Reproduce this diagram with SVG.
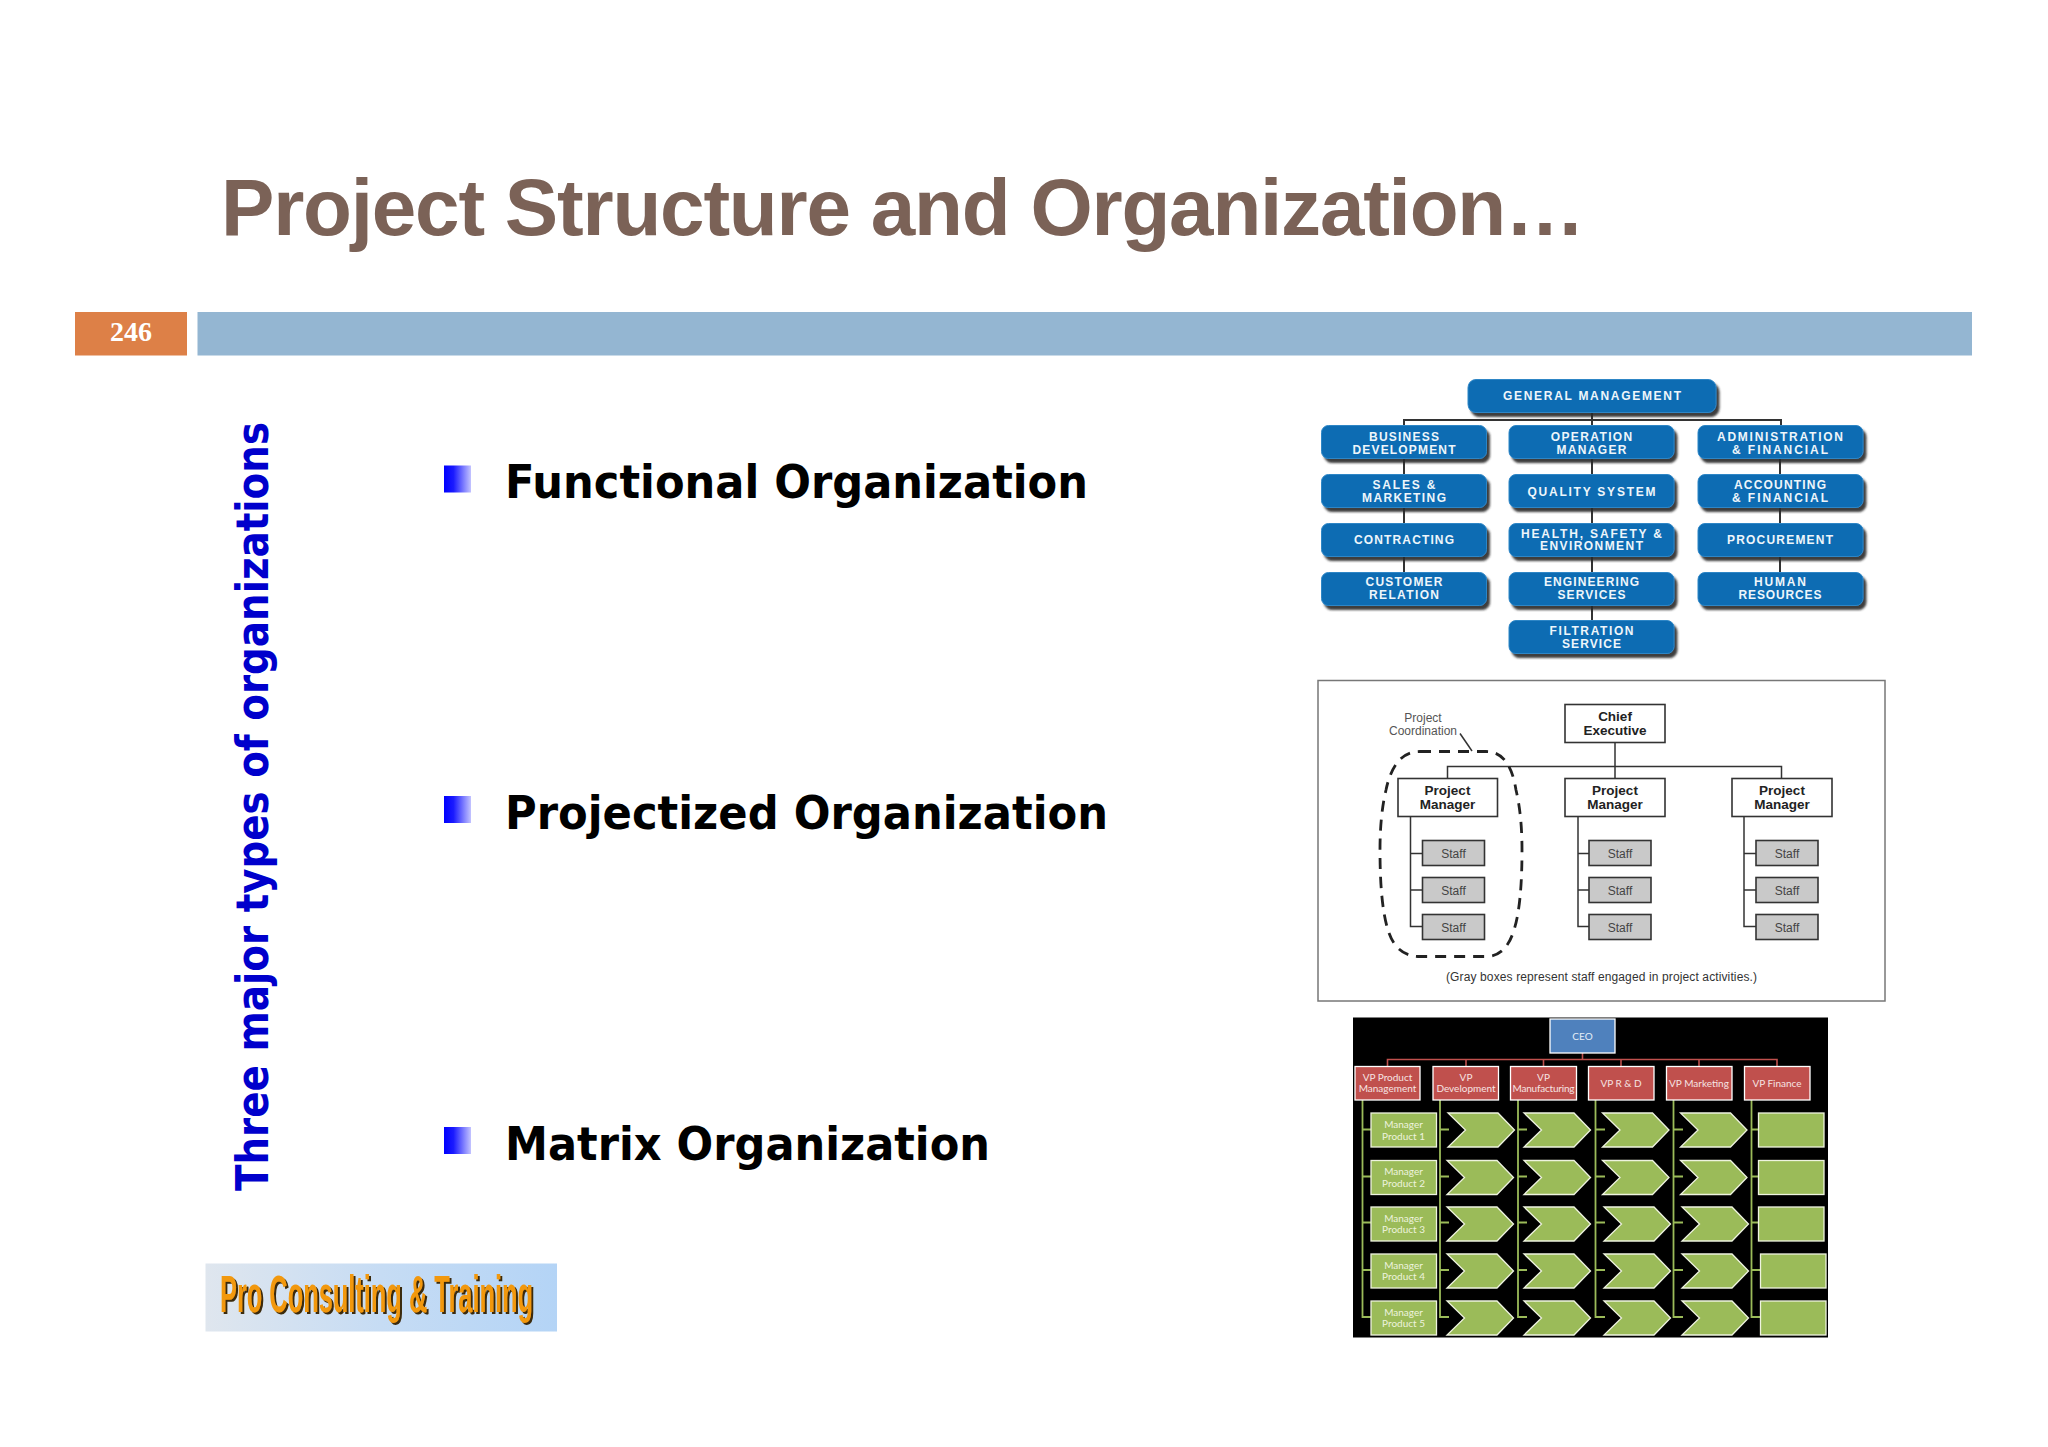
<svg xmlns="http://www.w3.org/2000/svg" width="2048" height="1447" viewBox="0 0 2048 1447">
<style>
.title{font:bold 80px "Liberation Sans",Arial,sans-serif;fill:#7b6257}
.num{font:bold 28px "Liberation Serif",serif;fill:#fff;text-anchor:middle}
.side{font:bold 44px "DejaVu Sans",sans-serif;fill:#0000cc}
.bul{font:bold 46px "DejaVu Sans",sans-serif;fill:#000}
.logo{font:bold 52px "Liberation Sans",sans-serif;fill:#f2980f}
.bb{fill:#0b6cb3;stroke:#2f86c6;stroke-width:1}
.bt{font:bold 12px "Liberation Sans",sans-serif;fill:#eef6fb;text-anchor:middle}
.bl{fill:none;stroke:#333;stroke-width:2}
.pb{fill:#fff;stroke:#333;stroke-width:1.6}
.sb{fill:#c9c9c9;stroke:#333;stroke-width:1.6}
.pt{font:bold 13.5px "Liberation Sans",sans-serif;fill:#222;text-anchor:middle}
.st{font:12px "Liberation Sans",sans-serif;fill:#444;text-anchor:middle}
.nt{font:12px "Liberation Sans",sans-serif;fill:#555;text-anchor:middle}
.pl{fill:none;stroke:#333;stroke-width:1.5}
.mc{font:10px Lato,sans-serif;text-anchor:middle}
.vp{fill:#c0504d;stroke:#fff;stroke-width:1.3}
.gr{fill:#9bbb59;stroke:#eef3df;stroke-width:1.3}
.rl{fill:none;stroke:#c0504d;stroke-width:1.6}
.gl{fill:none;stroke:#9bbb59;stroke-width:1.8}
</style>
<defs>
<linearGradient id="bg1"><stop offset="0" stop-color="#0000ff"/><stop offset="0.35" stop-color="#1a1aff"/><stop offset="1" stop-color="#c4c4ff"/></linearGradient>
<linearGradient id="lg1"><stop offset="0" stop-color="#dfe6ee"/><stop offset="0.5" stop-color="#c6dcf4"/><stop offset="1" stop-color="#b4d4f6"/></linearGradient>
<filter id="sh" x="-10%" y="-20%" width="125%" height="150%"><feDropShadow dx="3" dy="4" stdDeviation="1" flood-color="#2a2a2a" flood-opacity="0.9"/></filter>
<filter id="lsh" x="-5%" y="-10%" width="110%" height="125%"><feDropShadow dx="2" dy="2" stdDeviation="0.4" flood-color="#3a2a10"/></filter>
<polygon id="chev" class="gr" points="0,0 50,0 66.5,17 50,34 0,34 17.5,17"/>
<rect id="bbox" class="bb" width="165" height="33" rx="7" filter="url(#sh)"/>
<rect id="staff" class="sb" width="62" height="25"/>
<rect id="gbox" class="gr" width="65.5" height="34"/>
</defs>
<rect width="2048" height="1447" fill="#fff"/>
<text class="title" x="221" y="235" textLength="1364">Project Structure and Organization…</text>
<g id="page-number"><rect x="75" y="312" width="112" height="43.500" fill="#dd8047"/><text class="num" x="131" y="341">246</text></g>
<rect id="header-bar" x="197.500" y="312" width="1774.500" height="43.500" fill="#94b6d2"/>
<text class="side" transform="translate(268,1191) rotate(-90)" textLength="769" lengthAdjust="spacingAndGlyphs">Three major types of organizations</text>
<g id="bullet-functional"><rect x="444" y="465.500" width="27" height="27" fill="url(#bg1)"/><text class="bul" x="505" y="498" textLength="583" lengthAdjust="spacingAndGlyphs">Functional Organization</text></g>
<g id="bullet-projectized"><rect x="444" y="796" width="27" height="27" fill="url(#bg1)"/><text class="bul" x="505" y="829" textLength="603" lengthAdjust="spacingAndGlyphs">Projectized Organization</text></g>
<g id="bullet-matrix"><rect x="444" y="1127" width="27" height="27" fill="url(#bg1)"/><text class="bul" x="505" y="1160" textLength="485" lengthAdjust="spacingAndGlyphs">Matrix Organization</text></g>
<g id="logo"><rect x="205.500" y="1263.500" width="351.500" height="68" fill="url(#lg1)"/><text class="logo" x="220" y="1312" textLength="313" lengthAdjust="spacingAndGlyphs" filter="url(#lsh)">Pro Consulting &amp; Training</text></g>

<g id="functional-connectors" class="bl">
<path class="bl" d="M1592 412V620M1404 425V420H1781V425M1404 458V572M1780 458V572"/>
</g>
<g id="fn-general"><rect class="bb" x="1468" y="379.500" width="248" height="33" rx="8" filter="url(#sh)"/><text class="bt" x="1592" y="400" textLength="178">GENERAL  MANAGEMENT</text></g>
<g id="fn-business"><use href="#bbox" x="1321.500" y="425.500"/><text class="bt" x="1404" y="441" textLength="70">BUSINESS</text><text class="bt" x="1404" y="453.500" textLength="103">DEVELOPMENT</text></g>
<g id="fn-sales"><use href="#bbox" x="1321.500" y="474.500"/><text class="bt" x="1404" y="489" textLength="63">SALES &amp;</text><text class="bt" x="1404" y="501.500" textLength="84">MARKETING</text></g>
<g id="fn-contracting"><use href="#bbox" x="1321.500" y="523.500"/><text class="bt" x="1404" y="544" textLength="100">CONTRACTING</text></g>
<g id="fn-customer"><use href="#bbox" x="1321.500" y="572.500"/><text class="bt" x="1404" y="586" textLength="77">CUSTOMER</text><text class="bt" x="1404" y="599" textLength="70">RELATION</text></g>
<g id="fn-operation"><use href="#bbox" x="1509" y="425.500"/><text class="bt" x="1591.500" y="441" textLength="81.500">OPERATION</text><text class="bt" x="1591.500" y="453.500" textLength="70">MANAGER</text></g>
<g id="fn-quality"><use href="#bbox" x="1509" y="474.500"/><text class="bt" x="1591.500" y="496" textLength="128">QUALITY  SYSTEM</text></g>
<g id="fn-health"><use href="#bbox" x="1509" y="523.500"/><text class="bt" x="1591.500" y="537.500" textLength="141">HEALTH, SAFETY &amp;</text><text class="bt" x="1591.500" y="550" textLength="103">ENVIRONMENT</text></g>
<g id="fn-engineering"><use href="#bbox" x="1509" y="572.500"/><text class="bt" x="1591.500" y="586" textLength="95">ENGINEERING</text><text class="bt" x="1591.500" y="599" textLength="68">SERVICES</text></g>
<g id="fn-filtration"><use href="#bbox" x="1509" y="620.500"/><text class="bt" x="1591.500" y="635" textLength="84">FILTRATION</text><text class="bt" x="1591.500" y="647.500" textLength="59">SERVICE</text></g>
<g id="fn-admin"><use href="#bbox" x="1698" y="425.500"/><text class="bt" x="1780" y="441" textLength="126">ADMINISTRATION</text><text class="bt" x="1780" y="453.500" textLength="96">&amp; FINANCIAL</text></g>
<g id="fn-accounting"><use href="#bbox" x="1698" y="474.500"/><text class="bt" x="1780" y="489" textLength="92">ACCOUNTING</text><text class="bt" x="1780" y="501.500" textLength="96">&amp; FINANCIAL</text></g>
<g id="fn-procurement"><use href="#bbox" x="1698" y="523.500"/><text class="bt" x="1780" y="544" textLength="106">PROCUREMENT</text></g>
<g id="fn-human"><use href="#bbox" x="1698" y="572.500"/><text class="bt" x="1780" y="586" textLength="52">HUMAN</text><text class="bt" x="1780" y="599" textLength="83">RESOURCES</text></g>

<rect id="proj-frame" x="1318" y="680.500" width="567" height="320.500" fill="#fff" stroke="#777" stroke-width="1.500"/>
<g id="projectized-connectors">
<path class="pl" d="M1615 742.500V778.500M1447.500 778.500V766.500H1781.500V778.500"/>
<path class="pl" d="M1410.500 816.500V926.500H1422.500M1410.500 853.500H1422.500M1410.500 890H1422.500"/>
<path class="pl" d="M1578 816.500V926.500H1589M1578 853.500H1589M1578 890H1589"/>
<path class="pl" d="M1744 816.500V926.500H1756M1744 853.500H1756M1744 890H1756"/>
<path class="pl" d="M1460 733.500L1472 751"/>
<path d="M1420 751.500H1486Q1510 751.500 1516 790Q1522 815 1522 850Q1522 905 1514 930Q1506 956.500 1486 956.500H1420Q1396 956.500 1388 930Q1380 905 1380 850Q1380 815 1386 790Q1394 751.500 1420 751.500Z" fill="none" stroke="#222" stroke-width="2.800" stroke-dasharray="11 8"/>
</g>
<g id="pj-chief"><rect class="pb" x="1565" y="704.500" width="100" height="38"/><text class="pt" x="1615" y="721">Chief</text><text class="pt" x="1615" y="734.500">Executive</text></g>
<g id="pj-pm1"><rect class="pb" x="1398" y="778.500" width="99.500" height="38"/><text class="pt" x="1447.500" y="795">Project</text><text class="pt" x="1447.500" y="809">Manager</text></g>
<g id="pj-pm2"><rect class="pb" x="1565" y="778.500" width="100" height="38"/><text class="pt" x="1615" y="795">Project</text><text class="pt" x="1615" y="809">Manager</text></g>
<g id="pj-pm3"><rect class="pb" x="1732" y="778.500" width="100" height="38"/><text class="pt" x="1782" y="795">Project</text><text class="pt" x="1782" y="809">Manager</text></g>
<g id="pj-s11"><use href="#staff" x="1422.500" y="840.500"/><text class="st" x="1453.500" y="857.500">Staff</text></g>
<g id="pj-s12"><use href="#staff" x="1422.500" y="877.500"/><text class="st" x="1453.500" y="894.500">Staff</text></g>
<g id="pj-s13"><use href="#staff" x="1422.500" y="914.500"/><text class="st" x="1453.500" y="931.500">Staff</text></g>
<g id="pj-s21"><use href="#staff" x="1589" y="840.500"/><text class="st" x="1620" y="857.500">Staff</text></g>
<g id="pj-s22"><use href="#staff" x="1589" y="877.500"/><text class="st" x="1620" y="894.500">Staff</text></g>
<g id="pj-s23"><use href="#staff" x="1589" y="914.500"/><text class="st" x="1620" y="931.500">Staff</text></g>
<g id="pj-s31"><use href="#staff" x="1756" y="840.500"/><text class="st" x="1787" y="857.500">Staff</text></g>
<g id="pj-s32"><use href="#staff" x="1756" y="877.500"/><text class="st" x="1787" y="894.500">Staff</text></g>
<g id="pj-s33"><use href="#staff" x="1756" y="914.500"/><text class="st" x="1787" y="931.500">Staff</text></g>
<text class="nt" x="1423" y="721.500">Project</text>
<text class="nt" x="1423" y="735" textLength="68">Coordination</text>
<text class="nt" x="1601.500" y="980.500" textLength="311" style="fill:#333">(Gray boxes represent staff engaged in project activities.)</text>

<rect id="matrix-bg" x="1353" y="1017.500" width="475" height="320" fill="#000"/>
<g id="matrix-connectors">
<path class="rl" d="M1582.500 1053V1059.500M1387.500 1066V1059.500H1777V1066M1466 1059.500V1066M1543.500 1059.500V1066M1621 1059.500V1066M1699 1059.500V1066"/>
<path class="gl" d="M1362.500 1099V1317H1371M1362.500 1129.500H1371M1362.500 1176.500H1371M1362.500 1222.500H1371M1362.500 1270H1371"/>
<path class="gl" d="M1440 1099V1317H1449M1440 1129.500H1449M1440 1176.500H1449M1440 1222.500H1449M1440 1270H1449"/>
<path class="gl" d="M1518 1099V1317H1527M1518 1129.500H1527M1518 1176.500H1527M1518 1222.500H1527M1518 1270H1527"/>
<path class="gl" d="M1595.500 1099V1317H1605M1595.500 1129.500H1605M1595.500 1176.500H1605M1595.500 1222.500H1605M1595.500 1270H1605"/>
<path class="gl" d="M1673.500 1099V1317H1683M1673.500 1129.500H1683M1673.500 1176.500H1683M1673.500 1222.500H1683M1673.500 1270H1683"/>
<path class="gl" d="M1751.500 1099V1317H1760M1751.500 1129.500H1760M1751.500 1176.500H1760M1751.500 1222.500H1760M1751.500 1270H1760"/>
</g>
<g id="mx-ceo"><rect x="1550" y="1019" width="65" height="34" fill="#4f81bd" stroke="#fff" stroke-width="1.300"/><text class="mc" x="1582.500" y="1039.500" fill="#e4edf7">CEO</text></g>
<g id="mx-vp1"><rect class="vp" x="1355" y="1066.500" width="65" height="33.500"/><text class="mc" x="1387.500" y="1080.500" fill="#f6e4e3">VP Product</text><text class="mc" x="1387.500" y="1092" fill="#f6e4e3">Management</text></g>
<g id="mx-vp2"><rect class="vp" x="1433" y="1066.500" width="65.500" height="33.500"/><text class="mc" x="1466" y="1080.500" fill="#f6e4e3">VP</text><text class="mc" x="1466" y="1092" fill="#f6e4e3">Development</text></g>
<g id="mx-vp3"><rect class="vp" x="1510.500" y="1066.500" width="66" height="33.500"/><text class="mc" x="1543.500" y="1080.500" fill="#f6e4e3">VP</text><text class="mc" x="1543.500" y="1092" fill="#f6e4e3" textLength="62">Manufacturing</text></g>
<g id="mx-vp4"><rect class="vp" x="1588.500" y="1066.500" width="65.500" height="33.500"/><text class="mc" x="1621" y="1086.500" fill="#f6e4e3">VP R &amp; D</text></g>
<g id="mx-vp5"><rect class="vp" x="1666.500" y="1066.500" width="65.500" height="33.500"/><text class="mc" x="1699" y="1086.500" fill="#f6e4e3">VP Marketing</text></g>
<g id="mx-vp6"><rect class="vp" x="1744.500" y="1066.500" width="65.500" height="33.500"/><text class="mc" x="1777" y="1086.500" fill="#f6e4e3">VP Finance</text></g>
<g id="mx-m1"><use href="#gbox" x="1371" y="1113"/><text class="mc" x="1403.500" y="1128" fill="#eef3df">Manager</text><text class="mc" x="1403.500" y="1139.500" fill="#eef3df">Product 1</text></g>
<g id="mx-m2"><use href="#gbox" x="1371" y="1160.500"/><text class="mc" x="1403.500" y="1175" fill="#eef3df">Manager</text><text class="mc" x="1403.500" y="1186.500" fill="#eef3df">Product 2</text></g>
<g id="mx-m3"><use href="#gbox" x="1371" y="1207"/><text class="mc" x="1403.500" y="1221.500" fill="#eef3df">Manager</text><text class="mc" x="1403.500" y="1233" fill="#eef3df">Product 3</text></g>
<g id="mx-m4"><use href="#gbox" x="1371" y="1254"/><text class="mc" x="1403.500" y="1268.500" fill="#eef3df">Manager</text><text class="mc" x="1403.500" y="1280" fill="#eef3df">Product 4</text></g>
<g id="mx-m5"><use href="#gbox" x="1371" y="1301"/><text class="mc" x="1403.500" y="1315.500" fill="#eef3df">Manager</text><text class="mc" x="1403.500" y="1327" fill="#eef3df">Product 5</text></g>
<g id="mx-chevrons">
<use href="#chev" x="1448" y="1113"/><use href="#chev" x="1447" y="1160.500"/><use href="#chev" x="1447" y="1207"/><use href="#chev" x="1447" y="1254"/><use href="#chev" x="1447" y="1301"/>
<use href="#chev" x="1524" y="1113"/><use href="#chev" x="1524" y="1160.500"/><use href="#chev" x="1524" y="1207"/><use href="#chev" x="1524" y="1254"/><use href="#chev" x="1524" y="1301"/>
<use href="#chev" x="1602.500" y="1113"/><use href="#chev" x="1602.500" y="1160.500"/><use href="#chev" x="1604" y="1207"/><use href="#chev" x="1604" y="1254"/><use href="#chev" x="1604" y="1301"/>
<use href="#chev" x="1680.500" y="1113"/><use href="#chev" x="1680.500" y="1160.500"/><use href="#chev" x="1682" y="1207"/><use href="#chev" x="1682" y="1254"/><use href="#chev" x="1682" y="1301"/>
</g>
<g id="mx-boxes">
<use href="#gbox" x="1758.500" y="1113"/><use href="#gbox" x="1758.500" y="1160.500"/><use href="#gbox" x="1758.500" y="1207"/><use href="#gbox" x="1760.500" y="1254"/><use href="#gbox" x="1760.500" y="1301"/>
</g>
</svg>
